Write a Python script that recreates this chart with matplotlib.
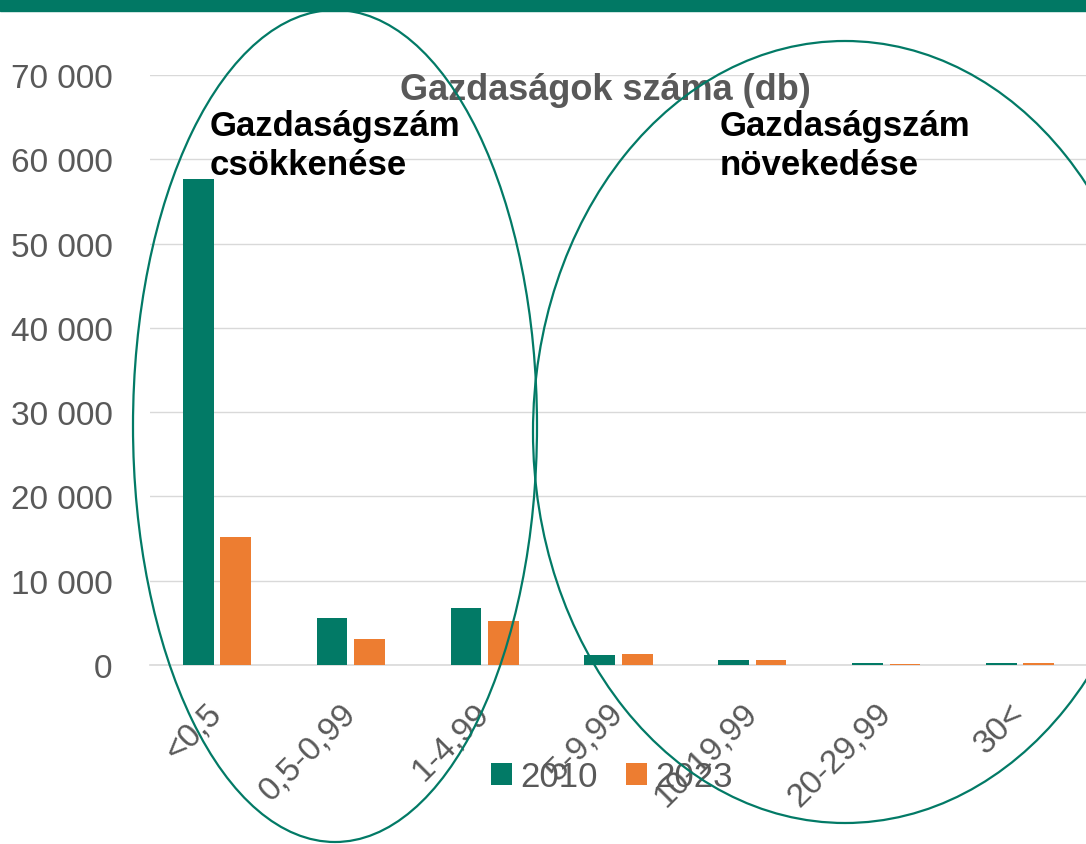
import matplotlib
matplotlib.use("Agg")
import matplotlib.pyplot as plt
from matplotlib.patches import Ellipse, Rectangle
import numpy as np

categories = ["<0,5", "0,5-0,99", "1-4,99", "5-9,99", "10-19,99", "20-29,99", "30<"]
v2010 = [57700, 5600, 6750, 1150, 600, 250, 250]
v2023 = [15200, 3100, 5200, 1300, 600, 150, 250]
yticks = [0, 10000, 20000, 30000, 40000, 50000, 60000, 70000]
ytick_labels = ["0", "10 000", "20 000", "30 000", "40 000", "50 000", "60 000", "70 000"]

GREEN = "#027A66"
ORANGE = "#ED7D31"
GRAY = "#595959"
plt.rcParams['font.family'] = ['Liberation Sans', 'DejaVu Sans']

W, H = 1086, 845
fig = plt.figure(figsize=(W/100, H/100), dpi=100)
ax = fig.add_axes([150/W, 1-666/H, (1087-150)/W, (666-76)/H])

x = np.arange(len(categories))
bw = 0.23
b1 = ax.bar(x-0.14, v2010, bw, color=GREEN, label="2010", zorder=3)
b2 = ax.bar(x+0.14, v2023, bw, color=ORANGE, label="2023", zorder=3)

ax.set_xlim(-0.5, len(categories)-0.5)
ax.set_ylim(0, 70000)
ax.set_yticks(yticks)
ax.set_yticklabels(ytick_labels, fontsize=24, color=GRAY)
ax.set_xticks(x)
ax.set_xticklabels(categories, rotation=45, ha='right', va='center', rotation_mode='anchor',
                   fontsize=24, color=GRAY)
ax.tick_params(axis='both', length=0)
ax.tick_params(axis='y', pad=27)
ax.tick_params(axis='x', pad=31)
ax.grid(axis='y', color='#D9D9D9', linewidth=1, zorder=0)
for s in ['top', 'right', 'left']:
    ax.spines[s].set_visible(False)
ax.spines['bottom'].set_color('#D9D9D9')
ax.spines['bottom'].set_linewidth(1.2)

fig.text(605/W, 1-90/H, "Gazdaságok száma (db)", ha='center', va='center',
         fontsize=26, fontweight='bold', color=GRAY)

fig.legend(handles=[b1, b2], labels=["2010", "2023"], loc='center',
           bbox_to_anchor=(612/W, 1-778/H), ncol=2, frameon=False, fontsize=25,
           labelcolor=GRAY, handlelength=0.6, handleheight=0.6, handletextpad=0.25,
           columnspacing=0.8)

# top band
fig.add_artist(Rectangle((0, 1-12/H), 1, 12/H, transform=fig.transFigure,
                         color="#017864", zorder=10))

# ellipses
fig.add_artist(Ellipse((335/W, 1-427/H), 404/W, 832/H, transform=fig.transFigure,
                       fill=False, edgecolor=GREEN, linewidth=1.6, zorder=8))
fig.add_artist(Ellipse((845/W, 1-433/H), 624/W, 782/H, transform=fig.transFigure,
                       fill=False, edgecolor=GREEN, linewidth=1.6, zorder=8))

fig.text(210/W, 1-146/H, "Gazdaságszám\ncsökkenése", ha='left', va='center',
         fontsize=25, fontweight='bold', color='black', linespacing=1.2)
fig.text(720/W, 1-146/H, "Gazdaságszám\nnövekedése", ha='left', va='center',
         fontsize=25, fontweight='bold', color='black', linespacing=1.2)

fig.savefig("out.png", dpi=100)
